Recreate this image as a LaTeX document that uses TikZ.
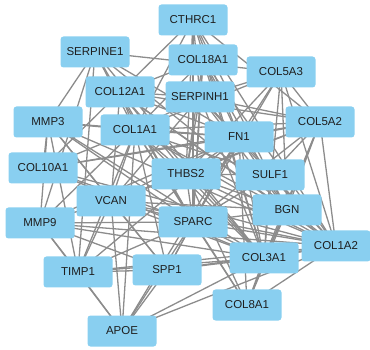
\documentclass[tikz,border=0pt]{standalone}
\usepackage{fontspec}
\setmainfont{Liberation Sans}
\usepackage{tikz}
\usetikzlibrary{backgrounds}
\definecolor{genebg}{HTML}{89CFF0}
\definecolor{edgegray}{HTML}{8C8C8C}
\definecolor{genetext}{HTML}{1E1E1E}
\tikzset{
  gene/.style={fill=genebg,rounded corners=3pt,minimum width=69pt,minimum height=31pt,
    inner sep=0pt,text=genetext,font=\fontsize{11.5}{13}\selectfont},
  link/.style={draw=edgegray,line width=1.3pt}
}

\begin{document}
\begin{tikzpicture}[x=1pt,y=-1pt]
        \useasboundingbox (0,0) rectangle (370,350);
        % genes
        \node[gene] (cthrc) at (193,20) {CTHRC1};
        \node[gene] (serpine) at (95,52) {SERPINE1};
        \node[gene] (col18) at (203,60) {COL18A1};
        \node[gene] (col5a3) at (281,72) {COL5A3};
        \node[gene] (col12) at (120,92) {COL12A1};
        \node[gene] (serpinh) at (200,97) {SERPINH1};
        \node[gene] (mmp3) at (48,122) {MMP3};
        \node[gene] (col1a1) at (135,130) {COL1A1};
        \node[gene] (col5a2) at (320,122) {COL5A2};
        \node[gene] (fn) at (239,137) {FN1};
        \node[gene] (col10) at (43,168) {COL10A1};
        \node[gene] (thbs) at (186,174) {THBS2};
        \node[gene] (sulf) at (270,175) {SULF1};
        \node[gene] (vcan) at (111,201) {VCAN};
        \node[gene] (mmp9) at (40,223) {MMP9};
        \node[gene] (sparc) at (193,222) {SPARC};
        \node[gene] (bgn) at (287,210) {BGN};
        \node[gene] (col1a2) at (336,246) {COL1A2};
        \node[gene] (col3) at (264,258) {COL3A1};
        \node[gene] (timp) at (78,272) {TIMP1};
        \node[gene] (spp) at (167,270) {SPP1};
        \node[gene] (col8) at (247,305) {COL8A1};
        \node[gene] (apoe) at (122,331) {APOE};
        % interactions
        \begin{scope}[on background layer]
          \foreach \a/\blist in {
              col1a1/{cthrc,serpine,col18,col5a3,col12,serpinh,mmp3,col5a2,fn,col10,thbs,sulf,vcan,mmp9,sparc,bgn,col1a2,col3,timp,spp,col8,apoe},
              col1a2/{cthrc,serpine,col18,col5a3,col12,serpinh,mmp3,col5a2,fn,col10,thbs,sulf,vcan,mmp9,sparc,bgn,col3,timp,spp,col8,apoe},
              col3/{cthrc,serpine,col18,col5a3,col12,serpinh,mmp3,col5a2,fn,col10,thbs,sulf,vcan,mmp9,sparc,bgn,timp,spp,col8,apoe},
              fn/{cthrc,serpine,col18,col5a3,col12,serpinh,mmp3,col5a2,col10,thbs,vcan,mmp9,sparc,bgn,timp,spp,col8,apoe},
              sparc/{cthrc,serpine,col18,col5a3,col12,serpinh,mmp3,col5a2,col10,thbs,sulf,vcan,mmp9,bgn,timp,spp,col8,apoe},
              col5a2/{cthrc,col5a3,col12,serpinh,thbs,sulf,vcan,bgn,col8,col10},
              thbs/{cthrc,col5a3,col12,serpinh,sulf,vcan,bgn,col8,col18},
              bgn/{col5a3,col12,serpinh,vcan,col8,col18,cthrc},
              col12/{col18,serpinh,vcan,col10,cthrc},
              serpinh/{col18,vcan,col5a3,cthrc},
              mmp9/{timp,spp,apoe,mmp3,serpine,vcan},
              timp/{apoe,spp,mmp3,serpine,vcan},
              spp/{apoe,mmp3,vcan},
              mmp3/{serpine,col10,vcan},
              serpine/{col5a3},
              apoe/{vcan}}
            \foreach \b in \blist
              \draw[link] (\a.center) -- (\b.center);
        \end{scope}
      \end{tikzpicture}
\end{document}
